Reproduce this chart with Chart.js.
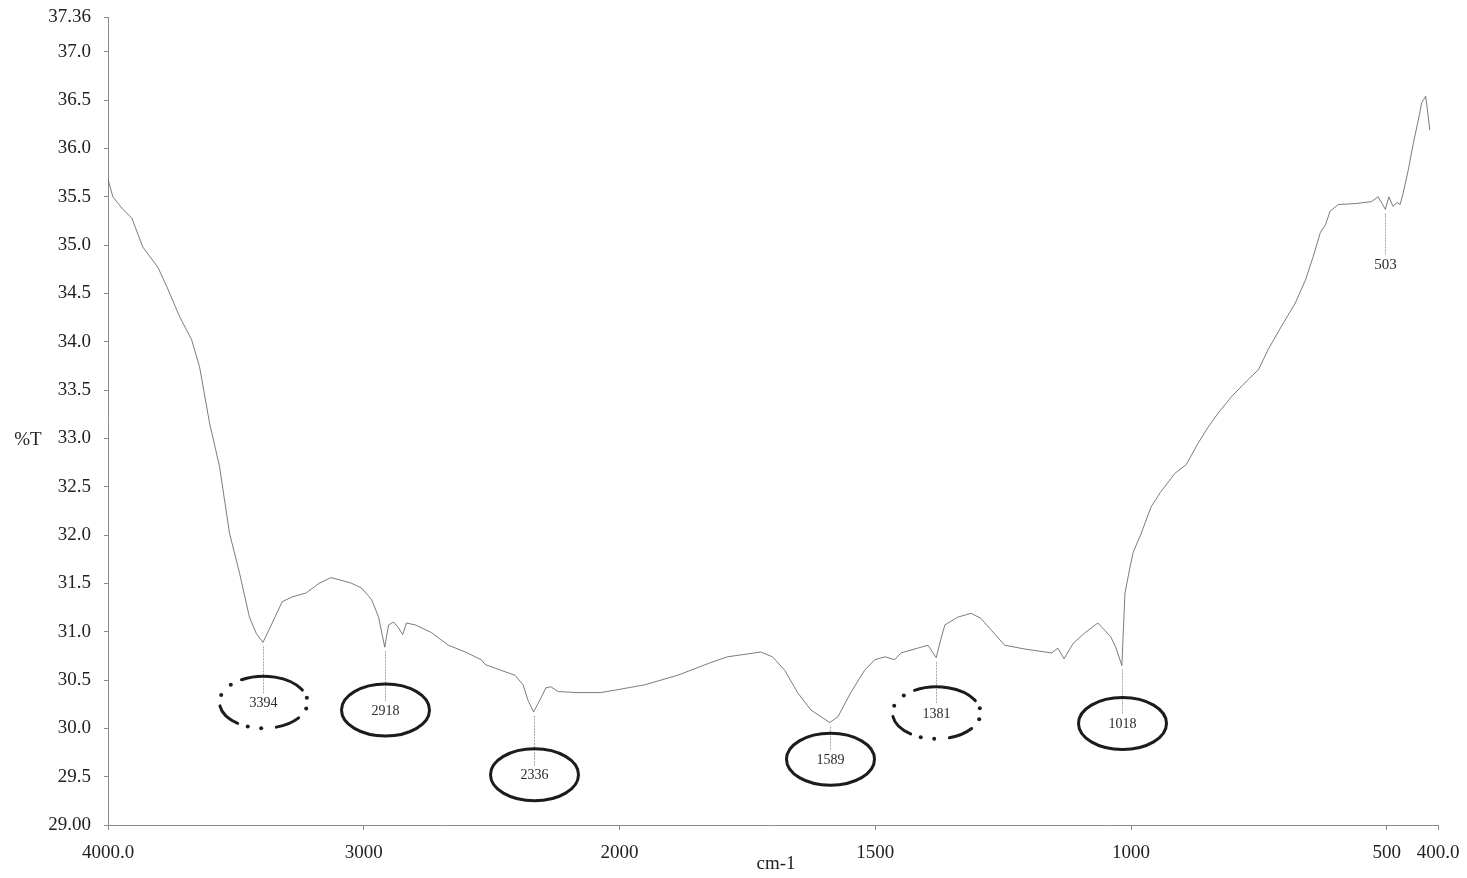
<!DOCTYPE html>
<html>
<head>
<meta charset="utf-8">
<title>FTIR spectrum</title>
<script src="https://cdn.jsdelivr.net/npm/chart.js@4/dist/chart.umd.min.js"></script>
<style>
    html, body { margin: 0; padding: 0; background: #fff; }
</style>
</head>
<body>
<canvas id="spectrum" width="1467" height="878"></canvas>
<script>
// recorded spectrum: wavenumber (cm-1) against transmittance (%T)
const wavenumbers = [
    4000, 3981, 3942, 3907, 3864, 3805, 3770, 3720, 3673, 3642,
    3603, 3564, 3525, 3486, 3447, 3420, 3394, 3358, 3319, 3280,
    3226, 3175, 3128, 3085, 3047, 3008, 2969, 2942, 2918, 2903,
    2883, 2864, 2848, 2833, 2798, 2735, 2669, 2603, 2541, 2525,
    2463, 2409, 2377, 2358, 2336, 2310, 2288, 2268, 2240, 2163,
    2074, 2008, 1951, 1886, 1822, 1789, 1736, 1724, 1701, 1677,
    1652, 1626, 1589, 1573, 1548, 1521, 1501, 1481, 1462, 1450,
    1417, 1397, 1381, 1372, 1364, 1339, 1313, 1294, 1274, 1247,
    1207, 1168, 1155, 1143, 1131, 1113, 1090, 1065, 1058, 1040,
    1030, 1018, 1012, 1002, 996, 980, 961, 943, 914, 892,
    869, 849, 830, 804, 771, 751, 732, 706, 679, 659,
    644, 630, 620, 611, 595, 560, 530, 517, 503, 496,
    488, 480, 474, 468, 458, 448, 437, 432, 424, 416
];
const transmittance = [
    35.68, 35.50, 35.37, 35.28, 34.98, 34.77, 34.57, 34.26, 34.02, 33.74,
    33.16, 32.71, 32.02, 31.61, 31.15, 30.98, 30.89, 31.09, 31.31, 31.36,
    31.40, 31.50, 31.56, 31.53, 31.50, 31.45, 31.33, 31.15, 30.84, 31.07,
    31.10, 31.04, 30.97, 31.09, 31.07, 30.99, 30.86, 30.79, 30.71, 30.66,
    30.60, 30.55, 30.45, 30.29, 30.17, 30.30, 30.42, 30.43, 30.38, 30.37,
    30.37, 30.40, 30.45, 30.55, 30.68, 30.74, 30.78, 30.79, 30.74, 30.60,
    30.37, 30.19, 30.06, 30.12, 30.37, 30.60, 30.71, 30.74, 30.71, 30.78,
    30.83, 30.86, 30.73, 30.92, 31.07, 31.15, 31.19, 31.14, 31.02, 30.86,
    30.82, 30.79, 30.78, 30.83, 30.72, 30.88, 30.99, 31.09, 31.05, 30.95,
    30.84, 30.65, 31.40, 31.67, 31.82, 32.02, 32.29, 32.44, 32.64, 32.73,
    32.95, 33.12, 33.26, 33.43, 33.61, 33.71, 33.92, 34.16, 34.40, 34.64,
    34.88, 35.13, 35.21, 35.35, 35.42, 35.43, 35.45, 35.50, 35.37, 35.50,
    35.40, 35.44, 35.42, 35.54, 35.78, 36.06, 36.33, 36.47, 36.54, 36.19
];

// picked peaks
const peakWavenumbers = [3394, 2918, 2336, 1589, 1381, 1018, 503];
const peakLabels = ["3394", "2918", "2336", "1589", "1381", "1018", "503"];

const xTicks = [4000, 3000, 2000, 1500, 1000, 500, 400];
const xTickLabels = ["4000.0", "3000", "2000", "1500", "1000", "500", "400.0"];
const yTicks = [29.0, 29.5, 30.0, 30.5, 31.0, 31.5, 32.0, 32.5, 33.0,
                33.5, 34.0, 34.5, 35.0, 35.5, 36.0, 36.5, 37.0, 37.36];
const yTickLabels = ["29.00", "29.5", "30.0", "30.5", "31.0", "31.5", "32.0", "32.5", "33.0",
                     "33.5", "34.0", "34.5", "35.0", "35.5", "36.0", "36.5", "37.0", "37.36"];

// where each peak label sits (in %T) and how it is circled
const peakMarks = [
    { labelAt: 30.27, ring: "dashdot" },
    { labelAt: 30.19, ring: "solid" },
    { labelAt: 29.52, ring: "solid" },
    { labelAt: 29.68, ring: "solid" },
    { labelAt: 30.16, ring: "dashdot" },
    { labelAt: 30.05, ring: "solid" },
    { labelAt: 34.80, ring: null },
];

// dash-dot ring: arcs and dots, angles in degrees (clockwise from 3 o'clock)
const ringDashes = [[240, 332], [37, 73], [126, 172]];
const ringDots = [350, 14, 93, 111, 196, 222];

const serif = "'Liberation Serif', 'DejaVu Serif', serif";

// the x axis is drawn at half scale above 2000 cm-1
function fold(w) {
    return w > 2000 ? 2000 + (w - 2000) / 2 : w;
}
function unfold(p) {
    return p > 2000 ? 2000 + (p - 2000) * 2 : p;
}

class SplitScale extends Chart.LinearScale {
    getPixelForValue(value) {
        if (value === null || isNaN(value)) return NaN;
        const lo = fold(this.min), hi = fold(this.max);
        return this.getPixelForDecimal((fold(value) - lo) / (hi - lo));
    }
    getValueForPixel(pixel) {
        const lo = fold(this.min), hi = fold(this.max);
        return unfold(lo + this.getDecimalForPixel(pixel) * (hi - lo));
    }
}
SplitScale.id = "split";
SplitScale.defaults = Chart.LinearScale.defaults;
Chart.register(SplitScale);

function drawRing(ctx, cx, cy, rx, ry, style) {
    ctx.strokeStyle = "#1c1c1c";
    ctx.fillStyle = "#1c1c1c";
    ctx.lineWidth = 3;
    if (style === "solid") {
        ctx.beginPath();
        ctx.ellipse(cx, cy, rx, ry, 0, 0, Math.PI * 2);
        ctx.stroke();
        return;
    }
    const rad = d => d * Math.PI / 180;
    ctx.lineCap = "round";
    ringDashes.forEach(([a, b]) => {
        ctx.beginPath();
        ctx.ellipse(cx, cy, rx, ry, 0, rad(a), rad(b));
        ctx.stroke();
    });
    ringDots.forEach(a => {
        ctx.beginPath();
        ctx.arc(cx + rx * Math.cos(rad(a)), cy + ry * Math.sin(rad(a)), 2, 0, Math.PI * 2);
        ctx.fill();
    });
}

const peakMarkers = {
    id: "peakMarkers",
    afterDatasetsDraw(chart) {
        const { ctx, scales: { x, y } } = chart;

        peakWavenumbers.forEach((w, i) => {
            const mark = peakMarks[i];
            const px = Math.round(x.getPixelForValue(w)) + 0.5;
            const dipY = y.getPixelForValue(transmittance[wavenumbers.indexOf(w)]);
            const cy = y.getPixelForValue(mark.labelAt);

            ctx.save();
            // leader from the dip down to the label
            ctx.strokeStyle = "#a8a8a8";
            ctx.lineWidth = 1;
            ctx.setLineDash([2, 1]);
            ctx.beginPath();
            ctx.moveTo(px, dipY + 4);
            ctx.lineTo(px, cy - 9);
            ctx.stroke();
            ctx.setLineDash([]);

            if (mark.ring) drawRing(ctx, px, cy, 44, 26, mark.ring);

            ctx.fillStyle = "#2a2a2a";
            ctx.font = (mark.ring ? "14px " : "15px ") + serif;
            ctx.textAlign = "center";
            ctx.textBaseline = "middle";
            ctx.fillText(peakLabels[i], px, cy + 1);
            ctx.restore();
        });
    }
};

const axisTitles = {
    id: "axisTitles",
    afterDraw(chart) {
        const { ctx } = chart;
        ctx.save();
        ctx.fillStyle = "#222";
        ctx.font = "19px " + serif;
        ctx.textAlign = "center";
        ctx.textBaseline = "middle";
        ctx.fillText("%T", 28, 440);
        ctx.fillText("cm-1", 776, 864);
        ctx.restore();
    }
};

const canvas = document.querySelector("canvas#spectrum");

new Chart(canvas, {
    type: "line",
    data: {
        datasets: [{
            data: wavenumbers.map((w, i) => ({ x: w, y: transmittance[i] })),
            borderColor: "rgba(80, 80, 80, 0.75)",
            borderWidth: 1,
            pointRadius: 0,
            tension: 0,
            fill: false,
        }]
    },
    options: {
        responsive: false,
        animation: false,
        layout: { padding: { top: 17, right: 29, left: 0, bottom: 0 } },
        plugins: {
            legend: { display: false },
            tooltip: { enabled: false },
        },
        scales: {
            x: {
                type: "split",
                reverse: true,
                min: 400,
                max: 4000,
                afterBuildTicks: scale => { scale.ticks = xTicks.map(v => ({ value: v })); },
                afterFit: scale => {
                    scale.height = 53;
                    scale.paddingLeft = 0;
                    scale.paddingRight = 0;
                },
                ticks: {
                    autoSkip: false,
                    maxRotation: 0,
                    padding: 12,
                    color: "#222",
                    font: { family: serif, size: 19 },
                    callback: (value, index) => xTickLabels[index],
                },
                grid: { drawOnChartArea: false, tickLength: 5, color: "#8a8a8a" },
                border: { color: "#8a8a8a", width: 1 },
            },
            y: {
                type: "linear",
                min: 29,
                max: 37.36,
                afterBuildTicks: scale => { scale.ticks = yTicks.map(v => ({ value: v })); },
                afterFit: scale => {
                    scale.width = 108;
                    scale.paddingTop = 0;
                    scale.paddingBottom = 0;
                },
                ticks: {
                    autoSkip: false,
                    padding: 13,
                    color: "#222",
                    font: { family: serif, size: 19 },
                    callback: (value, index) => yTickLabels[index],
                },
                grid: { drawOnChartArea: false, tickLength: 4, color: "#8a8a8a" },
                border: { color: "#8a8a8a", width: 1 },
            },
        },
    },
    plugins: [peakMarkers, axisTitles],
});
</script>
</body>
</html>
